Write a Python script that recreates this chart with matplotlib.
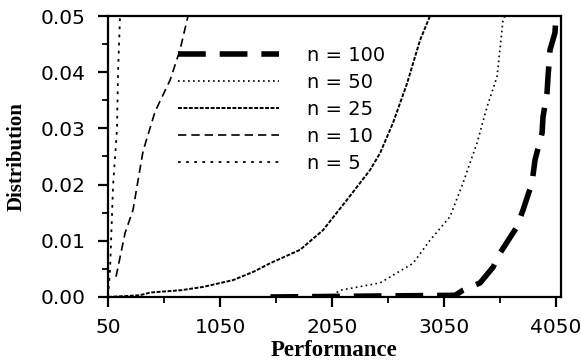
import matplotlib.pyplot as plt
from matplotlib.ticker import MultipleLocator, FixedLocator

# performance / distribution readings for each sample size
x_100 = [1500, 3150, 3220, 3372, 3488, 3550, 3702, 3756, 3836, 3863, 3926, 3934, 3970, 3979, 3997, 4041, 4050]
y_100 = [0.0, 0.0003, 0.0012, 0.0025, 0.0053, 0.0078, 0.0125, 0.0155, 0.0203, 0.0244, 0.0292, 0.032, 0.0363, 0.0392, 0.044, 0.047, 0.05]

x_50 = [50, 2032, 2122, 2479, 2774, 2925, 3104, 3220, 3345, 3434, 3524, 3577, 3595]
y_50 = [0.0, 0.0, 0.0012, 0.0025, 0.006, 0.0101, 0.0143, 0.0203, 0.0274, 0.0338, 0.0392, 0.0493, 0.05]

x_25 = [50, 330, 430, 700, 900, 1166, 1350, 1497, 1765, 1970, 2184, 2390, 2479, 2595, 2720, 2836, 2925]
y_25 = [0.0, 0.0003, 0.0008, 0.0012, 0.0018, 0.003, 0.0045, 0.006, 0.0084, 0.0119, 0.0173, 0.0226, 0.0256, 0.031, 0.038, 0.0457, 0.05]

x_10 = [121, 202, 273, 318, 363, 470, 604, 693, 764]
y_10 = [0.0036, 0.0114, 0.0155, 0.0208, 0.026, 0.033, 0.0386, 0.044, 0.05]

x_5 = [50, 68, 77, 86, 95, 113, 130, 139, 157]
y_5 = [0.0, 0.005, 0.01, 0.015, 0.02, 0.025, 0.03, 0.04, 0.05]

labels = ['n = 100', 'n = 50', 'n = 25', 'n = 10', 'n = 5']
xticks = [50, 1050, 2050, 3050, 4050]

fig = plt.figure(figsize=(5.81, 3.62), dpi=100)
ax = fig.add_axes([0.186, 0.1796, 0.7796, 0.7762])

ax.plot(x_100, y_100, color='black', lw=4, ls=(0, (5, 2.5)), label=labels[0])
ax.plot(x_50, y_50, color='black', lw=1.2, ls=(0, (1, 2)), label=labels[1])
ax.plot(x_25, y_25, color='black', lw=1.4, ls=(0, (2, 0.8)), label=labels[2])
ax.plot(x_10, y_10, color='black', lw=1.2, ls=(0, (5, 3)), label=labels[3])
ax.plot(x_5, y_5, color='black', lw=1.3, ls=(0, (1.5, 3)), label=labels[4])

ax.set_xlim(50, 4095)
ax.set_ylim(0, 0.05)
ax.xaxis.set_major_locator(FixedLocator(xticks))
ax.xaxis.set_minor_locator(FixedLocator([550, 1550, 2550, 3550]))
ax.yaxis.set_major_locator(MultipleLocator(0.01))
ax.yaxis.set_minor_locator(MultipleLocator(0.005))
ax.set_xticklabels([str(v) for v in xticks])
ax.yaxis.set_major_formatter(plt.FormatStrFormatter('%.2f'))

for s in ax.spines.values():
    s.set_linewidth(1.6)
ax.tick_params(which='major', direction='out', length=7, width=1.6, labelsize=14.5)
ax.tick_params(axis='x', which='major', pad=8)
ax.tick_params(axis='y', which='major', pad=9)
ax.tick_params(which='minor', direction='out', length=4, width=1.3)

ax.set_xlabel('Performance', family='Liberation Serif', weight='bold', fontsize=16.5, labelpad=2)
ax.set_ylabel('Distribution', family='Liberation Serif', weight='bold', fontsize=15, labelpad=10)

ax.legend(loc='upper left', bbox_to_anchor=(0.155, 0.893), frameon=False, fontsize=14,
          handlelength=5.2, handletextpad=1.4, labelspacing=0.41, borderpad=0, borderaxespad=0)

fig.savefig('out.png', dpi=100)
